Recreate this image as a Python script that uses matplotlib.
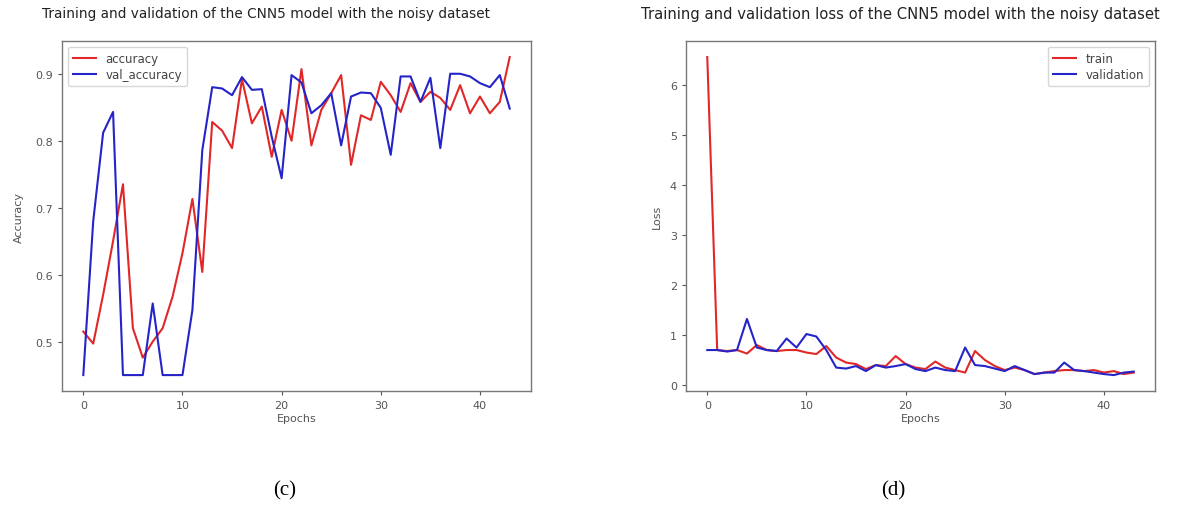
import matplotlib
matplotlib.use("Agg")
import matplotlib.pyplot as plt

# Per-epoch history of the CNN5 run on the noisy dataset
epochs = list(range(44))
accuracy = [0.515, 0.497, 0.57, 0.65, 0.735, 0.52, 0.476, 0.50, 0.52, 0.567,
            0.632, 0.713, 0.604, 0.828, 0.815, 0.789, 0.892, 0.826, 0.851, 0.776,
            0.846, 0.800, 0.907, 0.793, 0.846, 0.871, 0.898, 0.764, 0.838, 0.831,
            0.888, 0.868, 0.843, 0.886, 0.858, 0.873, 0.864, 0.846, 0.883, 0.841,
            0.866, 0.841, 0.858, 0.925]
val_accuracy = [0.45, 0.68, 0.812, 0.843, 0.45, 0.45, 0.45, 0.557, 0.45, 0.45,
                0.45, 0.547, 0.786, 0.880, 0.878, 0.868, 0.895, 0.876, 0.877, 0.806,
                0.744, 0.898, 0.887, 0.841, 0.853, 0.871, 0.793, 0.866, 0.872, 0.871,
                0.849, 0.779, 0.896, 0.896, 0.858, 0.894, 0.789, 0.900, 0.900, 0.896,
                0.886, 0.880, 0.898, 0.848]
train_loss = [6.55, 0.70, 0.68, 0.70, 0.63, 0.80, 0.70, 0.68, 0.70, 0.70,
              0.65, 0.62, 0.78, 0.55, 0.45, 0.42, 0.32, 0.40, 0.38, 0.58,
              0.42, 0.35, 0.32, 0.47, 0.35, 0.30, 0.25, 0.68, 0.50, 0.38,
              0.30, 0.35, 0.30, 0.22, 0.25, 0.28, 0.30, 0.30, 0.28, 0.30,
              0.25, 0.28, 0.22, 0.25]
val_loss = [0.70, 0.70, 0.67, 0.70, 1.32, 0.75, 0.70, 0.68, 0.93, 0.75,
            1.02, 0.97, 0.70, 0.35, 0.33, 0.38, 0.28, 0.40, 0.35, 0.38,
            0.42, 0.32, 0.28, 0.35, 0.30, 0.28, 0.75, 0.40, 0.38, 0.33,
            0.28, 0.38, 0.30, 0.22, 0.25, 0.25, 0.45, 0.30, 0.28, 0.25,
            0.22, 0.20, 0.25, 0.27]

RED = "#e02828"
BLUE = "#2424c8"
GREY = "#555555"

plt.rcParams["font.family"] = ["DejaVu Sans"]

fig = plt.figure(figsize=(11.99, 5.10), dpi=100)

ax1 = fig.add_axes([0.0517, 0.2314, 0.3912, 0.686])
ax2 = fig.add_axes([0.5721, 0.2314, 0.3912, 0.686])


def style(ax):
    for s in ax.spines.values():
        s.set_color("#777777")
        s.set_linewidth(1.0)
    ax.tick_params(colors=GREY, labelsize=8, length=3, width=0.8,
                   labelcolor=GREY)


ax1.plot(epochs, accuracy, color=RED, lw=1.5, label="accuracy")
ax1.plot(epochs, val_accuracy, color=BLUE, lw=1.5, label="val_accuracy")
ax1.set_xlabel("Epochs", fontsize=8, color=GREY, labelpad=2)
ax1.set_ylabel("Accuracy", fontsize=8, color=GREY, labelpad=8)
ax1.set_yticks([0.5, 0.6, 0.7, 0.8, 0.9])
ax1.set_xticks([0, 10, 20, 30, 40])
style(ax1)
leg1 = ax1.legend(loc="upper left", fontsize=8.5, frameon=True,
                  handlelength=2.0, borderpad=0.4, labelspacing=0.3)
for t in leg1.get_texts():
    t.set_color("#444444")

ax2.plot(epochs, train_loss, color=RED, lw=1.5, label="train")
ax2.plot(epochs, val_loss, color=BLUE, lw=1.5, label="validation")
ax2.set_xlabel("Epochs", fontsize=8, color=GREY, labelpad=2)
ax2.set_ylabel("Loss", fontsize=8, color=GREY, labelpad=6)
ax2.set_yticks([0, 1, 2, 3, 4, 5, 6])
ax2.set_xticks([0, 10, 20, 30, 40])
style(ax2)
leg2 = ax2.legend(loc="upper right", fontsize=8.5, frameon=True,
                  handlelength=2.0, borderpad=0.4, labelspacing=0.3)
for t in leg2.get_texts():
    t.set_color("#444444")

fig.text(0.2218, 0.972, "Training and validation of the CNN5 model with the noisy dataset",
         ha="center", va="center", fontsize=9.8, color="#222222")
fig.text(0.7506, 0.972, "Training and validation loss of the CNN5 model with the noisy dataset",
         ha="center", va="center", fontsize=10.6, color="#222222")

fig.text(0.2377, 0.038, "(c)", ha="center", va="center", fontsize=15,
         family="Liberation Serif", color="black")
fig.text(0.7448, 0.038, "(d)", ha="center", va="center", fontsize=15,
         family="Liberation Serif", color="black")

fig.savefig("out.png", dpi=100, facecolor="white")
